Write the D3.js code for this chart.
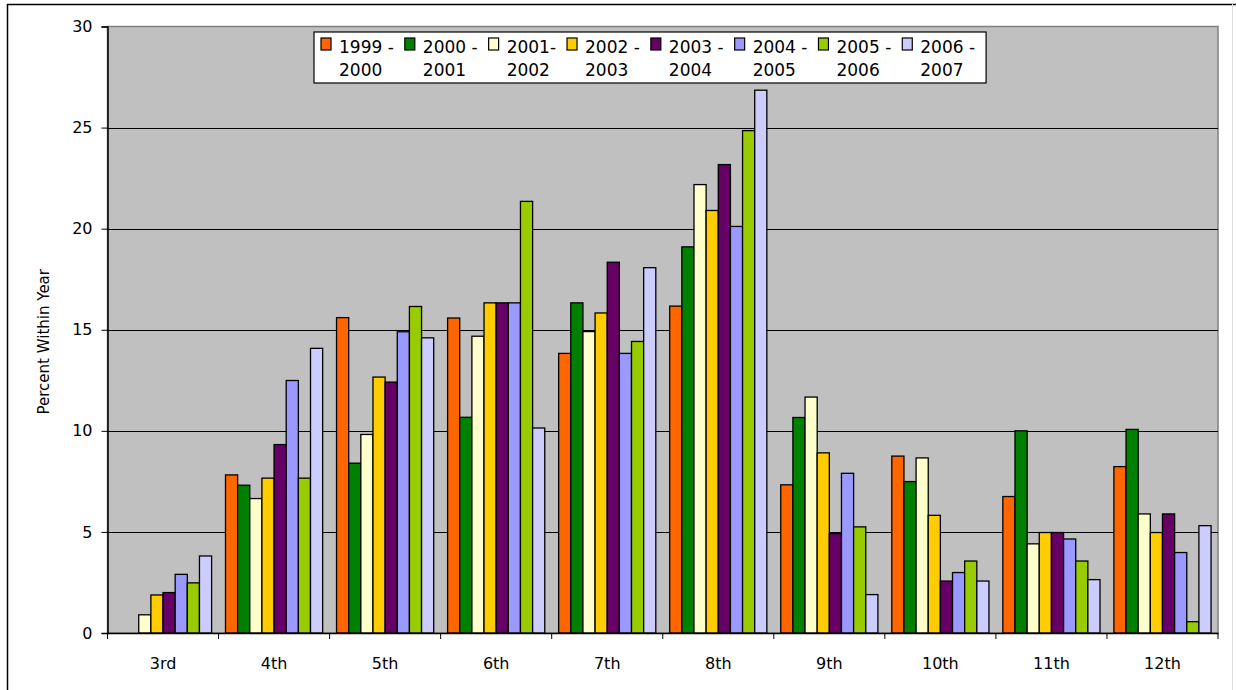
<!DOCTYPE html>
<html>
<head>
<meta charset="utf-8">
<script src="https://cdn.jsdelivr.net/npm/d3@7"></script>
<style>
  body { margin: 0; background: #fff; }
  text { font-family: "Comic Sans MS", "DejaVu Sans", sans-serif; fill: #000; }
</style>
</head>
<body>
<div id="viz"></div>
<script>
const grades = ["3rd", "4th", "5th", "6th", "7th", "8th", "9th", "10th", "11th", "12th"];
const seriesNames = ["1999 - 2000", "2000 - 2001", "2001- 2002", "2002 - 2003",
  "2003 - 2004", "2004 - 2005", "2005 - 2006", "2006 - 2007"];
const seriesColors = ["#FF6600", "#008000", "#FFFFCC", "#FFCC00", "#660066", "#9999FF", "#99CC00", "#CCCCFF"];

// one array per school year, values per grade
const y1999 = [0, 7.82, 15.6, 15.58, 13.83, 16.17, 7.33, 8.75, 6.75, 8.23];
const y2000 = [0, 7.31, 8.4, 10.67, 16.33, 19.1, 10.66, 7.49, 10.0, 10.07];
const y2001 = [0.9, 6.65, 9.82, 14.68, 14.91, 22.18, 11.67, 8.66, 4.41, 5.89];
const y2002 = [1.88, 7.66, 12.66, 16.33, 15.83, 20.9, 8.91, 5.82, 4.97, 4.97];
const y2003 = [2.0, 9.32, 12.41, 16.33, 18.34, 23.17, 4.92, 2.57, 4.97, 5.89];
const y2004 = [2.9, 12.49, 14.9, 16.33, 13.83, 20.11, 7.9, 2.99, 4.65, 3.98];
const y2005 = [2.48, 7.66, 16.15, 21.35, 14.42, 24.85, 5.25, 3.56, 3.56, 0.56];
const y2006 = [3.81, 14.08, 14.6, 10.14, 18.07, 26.85, 1.9, 2.57, 2.64, 5.31];
const seriesValues = [y1999, y2000, y2001, y2002, y2003, y2004, y2005, y2006];
const yTicks = [0, 5, 10, 15, 20, 25, 30];

const W = 1236, H = 690;
const plot = { left: 107.5, right: 1218, top: 26.5, bottom: 633 };

const svg = d3.select("#viz")
  .append("svg")
  .attr("width", W)
  .attr("height", H);

// outer chart frame
svg.append("line").attr("x1", 7).attr("x2", W).attr("y1", 4.5).attr("y2", 4.5)
  .attr("stroke", "#000").attr("stroke-width", 1.5);
svg.append("line").attr("x1", 7.5).attr("x2", 7.5).attr("y1", 4).attr("y2", H)
  .attr("stroke", "#000").attr("stroke-width", 1.5);
svg.append("line").attr("x1", 1232.5).attr("x2", 1232.5).attr("y1", 4).attr("y2", H)
  .attr("stroke", "#ddd").attr("stroke-width", 1);

const x0 = d3.scaleBand()
  .domain(grades)
  .range([plot.left, plot.right])
  .paddingInner(0)
  .paddingOuter(0);

const x1 = d3.scaleBand()
  .domain(d3.range(seriesNames.length))
  .range([0, x0.bandwidth()])
  .paddingOuter(0.572)
  .paddingInner(0);

const y = d3.scaleLinear()
  .domain([0, 30])
  .range([plot.bottom, plot.top]);

// plot background
svg.append("rect")
  .attr("x", plot.left).attr("y", plot.top)
  .attr("width", plot.right - plot.left).attr("height", plot.bottom - plot.top)
  .attr("fill", "#C0C0C0")
  .attr("stroke", "#808080").attr("stroke-width", 1.5);

// gridlines
svg.append("g")
  .selectAll("line")
  .data(yTicks.filter(t => t > 0 && t < 30))
  .join("line")
  .attr("x1", plot.left).attr("x2", plot.right)
  .attr("y1", d => Math.round(y(d)) + 0.5).attr("y2", d => Math.round(y(d)) + 0.5)
  .attr("stroke", "#000").attr("stroke-width", 1);

// bars
const groups = svg.append("g")
  .selectAll("g")
  .data(grades)
  .join("g")
  .attr("transform", d => `translate(${x0(d)},0)`);

groups.selectAll("rect")
  .data((g, gi) => seriesValues.map((vals, si) => ({ si, v: vals[gi] })).filter(d => d.v > 0))
  .join("rect")
  .attr("x", d => x1(d.si))
  .attr("y", d => y(d.v))
  .attr("width", x1.bandwidth())
  .attr("height", d => y(0) - y(d.v))
  .attr("fill", d => seriesColors[d.si])
  .attr("stroke", "#000")
  .attr("stroke-width", 1.3);

// y axis
const yAxis = d3.axisLeft(y).tickValues(yTicks).tickSize(6).tickPadding(9);
const yG = svg.append("g")
  .attr("transform", `translate(${plot.left},0)`)
  .call(yAxis);
yG.select(".domain").attr("stroke", "#000").attr("stroke-width", 1.5);
yG.selectAll(".tick line").attr("stroke", "#000");
yG.selectAll("text").style("font-size", "16px");

// x axis: ticks at category boundaries
const xAxis = d3.axisBottom(x0).tickSize(0).tickPadding(25);
const xG = svg.append("g")
  .attr("transform", `translate(0,${plot.bottom})`)
  .call(xAxis);
xG.select(".domain").attr("stroke", "#000").attr("stroke-width", 1.5);
xG.selectAll("text").style("font-size", "16px");
xG.selectAll(".sep")
  .data(grades.concat(["end"]))
  .join("line")
  .attr("class", "sep")
  .attr("x1", (d, i) => i < grades.length ? x0(d) : plot.right)
  .attr("x2", (d, i) => i < grades.length ? x0(d) : plot.right)
  .attr("y1", 0).attr("y2", 6)
  .attr("stroke", "#000");

// y axis title
svg.append("text")
  .attr("transform", `translate(49,${(plot.top + plot.bottom) / 2 + 12}) rotate(-90)`)
  .attr("text-anchor", "middle")
  .style("font-size", "15px")
  .text("Percent Within Year");

// legend
const legend = svg.append("g");
const legendBox = legend.append("rect")
  .attr("y", 32).attr("height", 51)
  .attr("fill", "#fff").attr("stroke", "#000").attr("stroke-width", 1.2);
let lx = 321;
seriesNames.forEach((name, i) => {
  const parts = name.split(" ");
  const first = parts.slice(0, parts.length - 1).join(" ");
  const second = parts[parts.length - 1];
  const item = legend.append("g").attr("transform", `translate(${lx},0)`);
  item.append("rect")
    .attr("x", 0).attr("y", 38).attr("width", 10).attr("height", 12)
    .attr("fill", seriesColors[i]).attr("stroke", "#000").attr("stroke-width", 1.2);
  const t1 = item.append("text").attr("x", 18).attr("y", 53).style("font-size", "17px").text(first);
  item.append("text").attr("x", 18).attr("y", 76).style("font-size", "17px").text(second);
  lx += 18 + t1.node().getComputedTextLength() + 11;
});
legendBox.attr("x", 314).attr("width", lx - 314);
</script>
</body>
</html>
